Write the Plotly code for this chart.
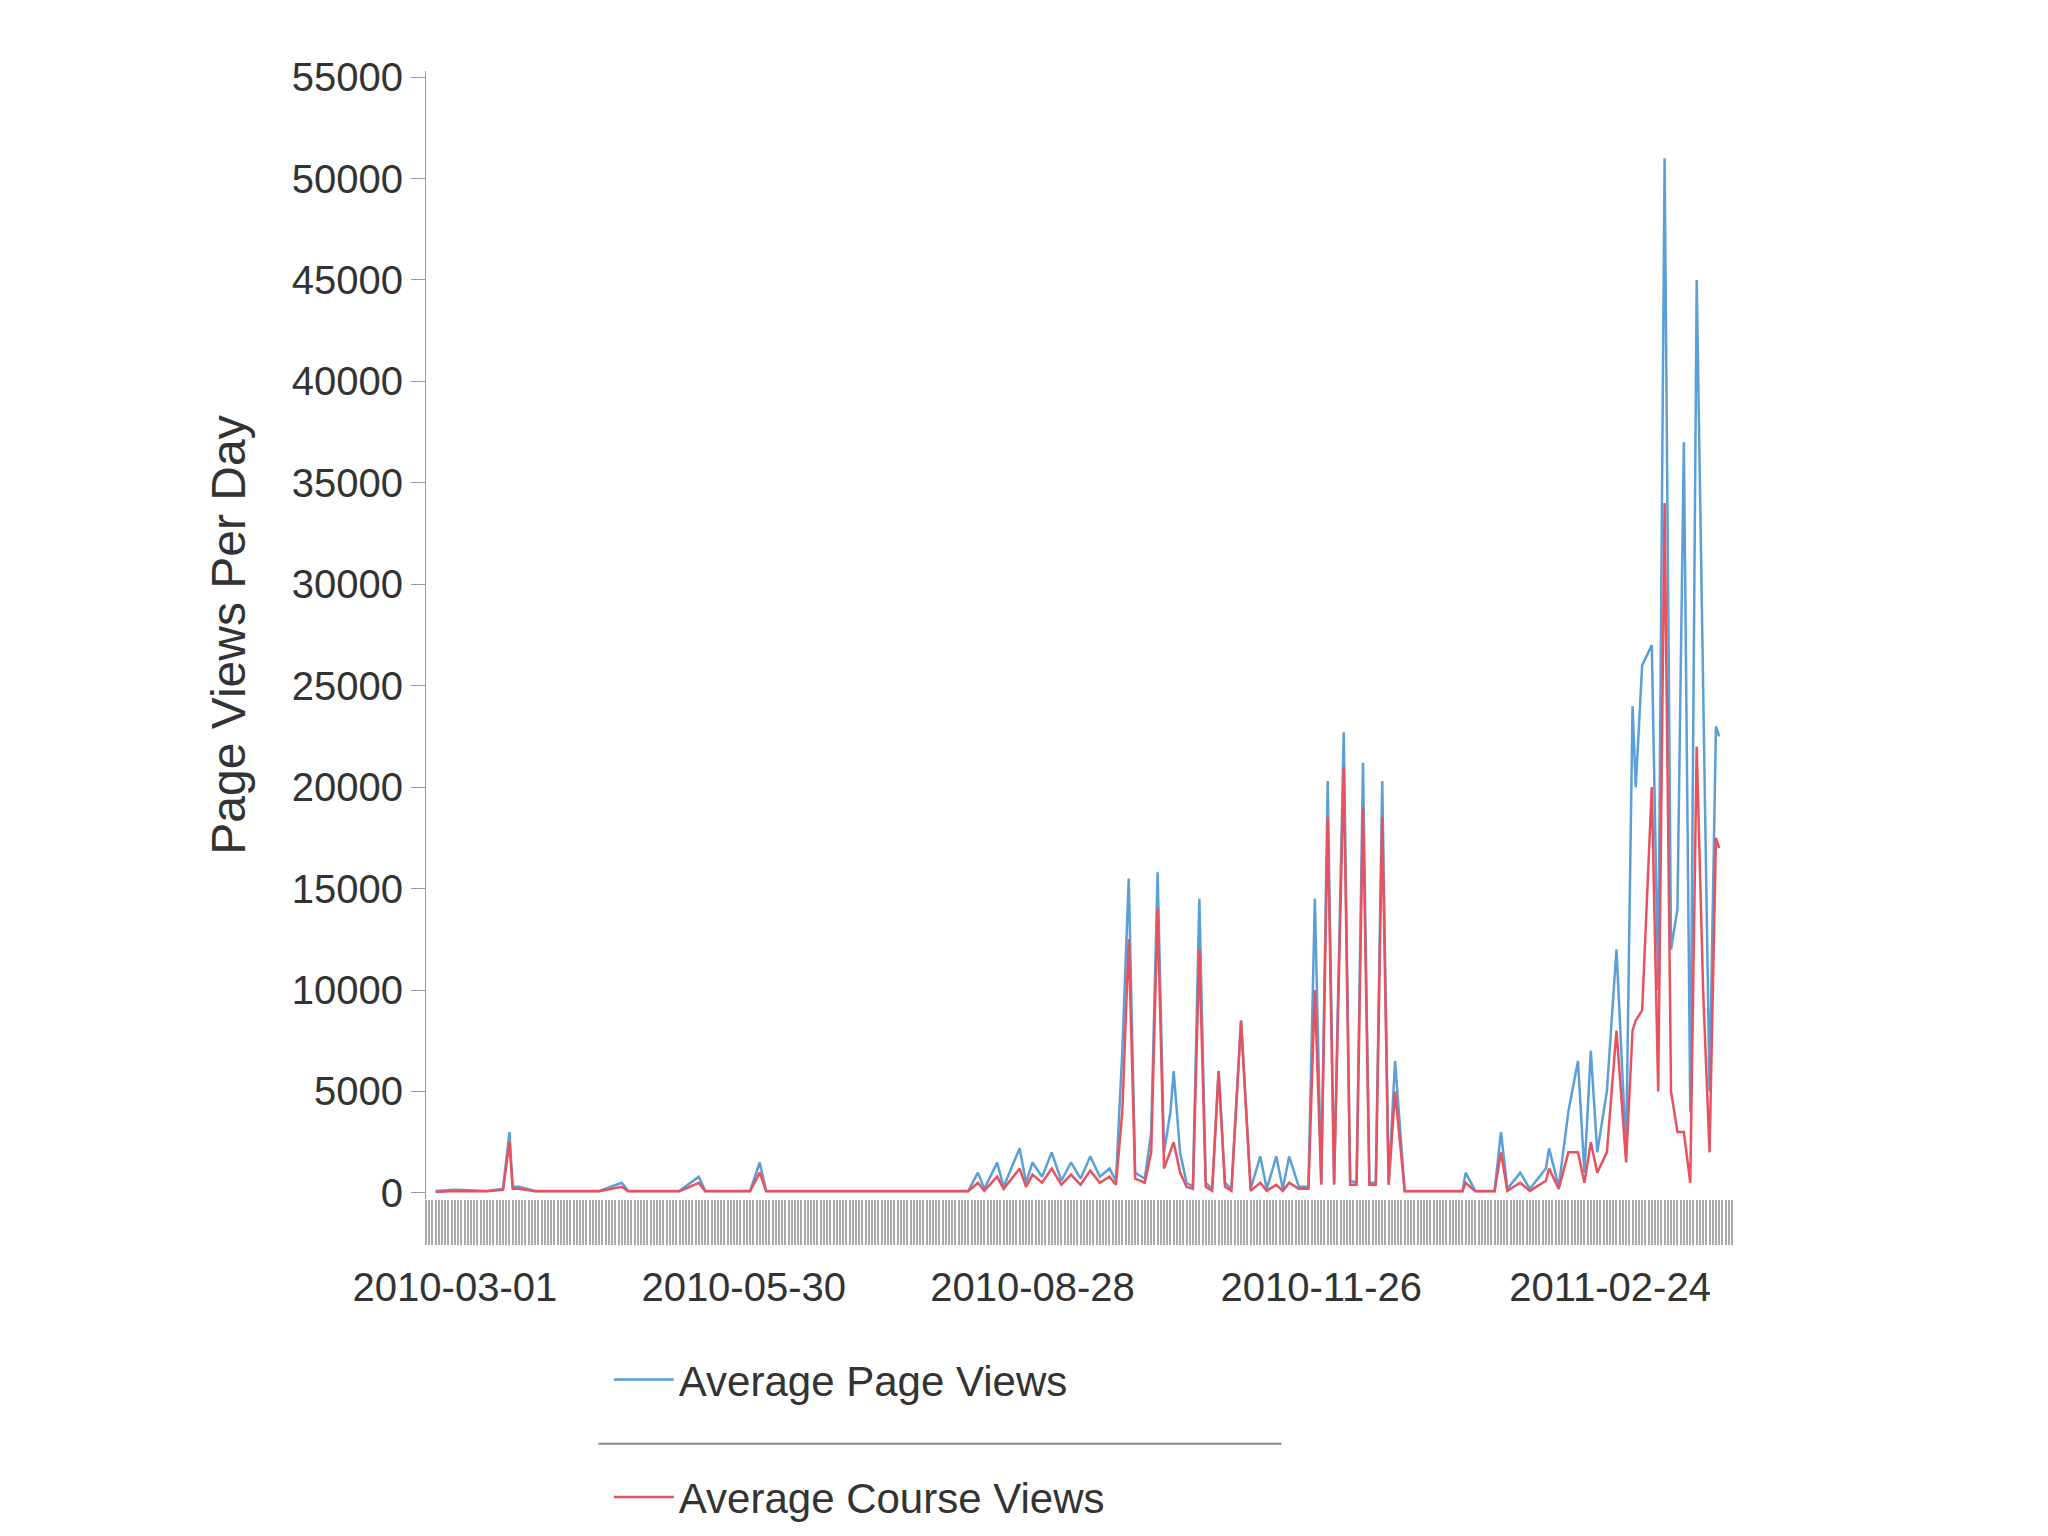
import plotly.graph_objs as go
import pandas as pd

# days after 2010-03-01
day_offsets = [-6, 0, 10, 15, 17, 18, 20, 25, 45, 52, 54, 70, 76, 78, 92, 95, 97, 120, 160, 163, 165, 169, 171, 176, 178, 180,
               183, 186, 189, 192, 195, 198, 201, 204, 206, 208, 210, 212, 215, 217, 219, 221, 223, 224, 226,
               228, 230, 232, 234, 236, 238, 240, 242, 245, 248, 251, 253, 256, 258, 260, 263, 266, 268, 270,
               272, 274, 277, 279, 281, 283, 285, 287, 289, 291, 293, 296, 299, 305, 314, 315, 318, 324, 326, 328,
               332, 335, 340, 341, 344, 347, 350, 352, 354, 356, 359, 362, 365, 367, 368, 370, 373, 375, 377,
               379, 381, 383, 385, 387, 389, 391, 393, 394]
page_views = [100, 150, 100, 200, 3000, 300, 300, 100, 100, 500, 100, 100, 800, 100, 100, 1500, 100, 100, 100, 1000, 200, 1500, 300, 2200, 500, 1500,
              800, 2000, 600, 1500, 700, 1800, 800, 1200, 600, 7000, 15500, 1000, 700, 3000, 15800, 2000, 4000, 6000, 2000,
              500, 300, 14500, 500, 200, 6000, 500, 200, 8500, 200, 1800, 200, 1800, 200, 1800, 300, 300, 14500, 500,
              20300, 500, 22700, 600, 500, 21200, 500, 500, 20300, 500, 6500, 100, 100, 100, 100, 1000, 100, 100, 3000, 200,
              1000, 200, 1200, 2200, 300, 4000, 6500, 1000, 7000, 2000, 5000, 12000, 2000, 24000, 20000, 26000, 27000, 10000, 51000,
              12000, 14000, 37000, 4000, 45000, 25000, 5000, 23000, 22500]
course_views = [50, 100, 80, 150, 2500, 200, 200, 80, 80, 300, 80, 80, 500, 80, 80, 1000, 80, 80, 80, 500, 100, 800, 200, 1200, 300, 900,
                500, 1200, 400, 900, 400, 1100, 500, 800, 400, 4000, 12500, 700, 500, 2000, 14000, 1200, 2000, 2500, 1000,
                300, 200, 12000, 300, 100, 6000, 300, 100, 8500, 100, 500, 100, 400, 100, 500, 200, 200, 10000, 400,
                18500, 400, 21000, 400, 400, 19000, 400, 400, 18500, 400, 5000, 80, 80, 80, 80, 500, 80, 80, 2000, 100,
                500, 100, 600, 1200, 200, 2000, 2000, 500, 2500, 1000, 2000, 8000, 1500, 8000, 8500, 9000, 20000, 5000, 34000,
                5000, 3000, 3000, 500, 22000, 10000, 2000, 17500, 17000]

start = pd.Timestamp("2010-03-01")
dates = [start + pd.Timedelta(days=d) for d in day_offsets]
tick_dates = [start + pd.Timedelta(days=90 * i) for i in range(5)]
tick_text = [d.strftime("%Y-%m-%d") for d in tick_dates]

fig = go.Figure([
    go.Scatter(x=dates, y=page_views, mode="lines", name="Average Page Views",
               line=dict(color="#5b9fd6", width=2.5), legendgroup="a"),
    go.Scatter(x=dates, y=course_views, mode="lines", name="Average Course Views",
               line=dict(color="#e8525e", width=2.5), legendgroup="b"),
])

fig.update_layout(
    width=2048, height=1536, plot_bgcolor="white", paper_bgcolor="white",
    margin=dict(l=418, r=324, t=63, b=337),
    font=dict(family="Liberation Sans, Arial", size=40, color="#333"),
    legend=dict(x=0.14, y=-0.13, xanchor="left", yanchor="top", tracegroupgap=60,
                bgcolor="rgba(0,0,0,0)", itemwidth=60, font=dict(size=42)),
)
fig.update_yaxes(range=[-300, 55300], tickvals=list(range(0, 55001, 5000)), tickformat="d",
                 showgrid=False, zeroline=False, showline=True, linecolor="#999",
                 ticks="outside", ticklen=14, tickcolor="#999",
                 title=dict(text="Page Views Per Day", standoff=30))
fig.update_xaxes(range=[start - pd.Timedelta(days=9), start + pd.Timedelta(days=398)],
                 tickvals=tick_dates, ticktext=tick_text, showgrid=False, showline=False,
                 ticks="outside", ticklen=45, tickcolor="#aaa", tickwidth=2,
                 ticklabelstandoff=8,
                 minor=dict(dtick=86400000, tick0="2010-03-01", ticks="outside", ticklen=45,
                            tickcolor="#aaa", tickwidth=2, showgrid=False))
fig.add_annotation(xref="paper", yref="paper", x=0.132, y=-0.217, text="", showarrow=True,
                   ax=683, ay=0, axref="pixel", ayref="pixel", arrowhead=0, arrowwidth=2,
                   arrowcolor="#888", xanchor="left")

fig.write_html("out.html")
